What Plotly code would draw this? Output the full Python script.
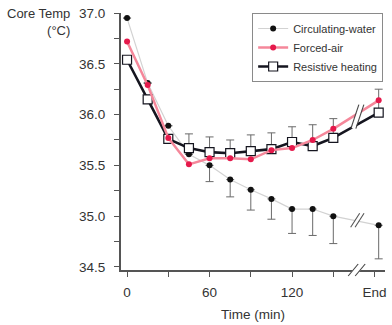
import plotly.graph_objects as go

# Time points (min); the final "End" reading sits just past the axis break
END_TICK = 180
END_X = 183
time_min = [0, 15, 30, 45, 60, 75, 90, 105, 120, 135, 150, END_X]

# Core temperature (degrees C) per warming method
circulating_water = [36.95, 36.31, 35.89, 35.61, 35.50, 35.36, 35.26, 35.17, 35.07, 35.07, 35.00, 34.91]
forced_air = [36.72, 36.29, 35.77, 35.51, 35.57, 35.57, 35.56, 35.65, 35.67, 35.75, 35.86, 36.14]
resistive_heating = [36.54, 36.15, 35.76, 35.67, 35.63, 35.62, 35.64, 35.66, 35.73, 35.69, 35.77, 36.02]

# One-sided error bars (SD): downward for circulating-water, upward for resistive heating
circulating_water_sd = [None, None, None, None, 0.16, 0.17, 0.20, 0.20, 0.24, 0.26, 0.27, 0.33]
resistive_heating_sd = [None, None, None, 0.14, 0.15, 0.13, 0.16, 0.16, 0.15, 0.21, 0.19, 0.23]

x_tick_vals = [0, 30, 60, 90, 120, 150, END_TICK]
x_tick_text = ["0", "", "60", "", "120", "", "End"]
y_tick_vals = [34.5, 34.75, 35.0, 35.25, 35.5, 35.75, 36.0, 36.25, 36.5, 36.75, 37.0]
y_tick_text = ["34.5", "", "35.0", "", "35.5", "", "36.0", "", "36.5", "", "37.0"]

# Where the time axis and the curves are broken before "End"
BREAK_X = 167.5
BREAK_UPPER_Y = 35.98
BREAK_LOWER_Y = 34.96

FONT = "Liberation Sans, Arial, Helvetica, sans-serif"
TEXT = "#333333"
AXIS = "#555555"
ERR = "#6a6a6a"

cw_minus = [v if v is not None else 0 for v in circulating_water_sd]
rh_plus = [v if v is not None else 0 for v in resistive_heating_sd]

fig = go.Figure()

# drawing order: circulating-water, resistive heating, forced-air on top
fig.add_trace(go.Scatter(
    x=time_min, y=circulating_water, name="Circulating-water",
    mode="lines+markers", legendrank=1,
    line=dict(color="#d2d2d2", width=1.2),
    marker=dict(color="#111111", size=6, symbol="circle"),
    error_y=dict(type="data", symmetric=False,
                 array=[0] * len(time_min), arrayminus=cw_minus,
                 color=ERR, thickness=1, width=4),
))
fig.add_trace(go.Scatter(
    x=time_min, y=resistive_heating, name="Resistive heating",
    mode="lines+markers", legendrank=3,
    line=dict(color="#15151f", width=2.6),
    marker=dict(color="white", size=9, symbol="square",
                line=dict(color="#15151f", width=1.2)),
    error_y=dict(type="data", symmetric=False,
                 array=rh_plus, arrayminus=[0] * len(time_min),
                 color=ERR, thickness=1, width=4),
))
fig.add_trace(go.Scatter(
    x=time_min, y=forced_air, name="Forced-air",
    mode="lines+markers", legendrank=2,
    line=dict(color="#f5879a", width=2.5),
    marker=dict(color="#e5194b", size=6, symbol="circle"),
))

shapes = []


def break_marks(xa, ya, yref, dx, dy, gap, color, white_w):
    """Two slanted strokes with a white gap between them, sized in pixels."""
    out = []
    common = dict(xref="x", yref=yref, xsizemode="pixel", ysizemode="pixel",
                  xanchor=xa, yanchor=ya, layer="above")
    out.append(dict(type="line", x0=-dx, y0=-dy, x1=dx, y1=dy,
                    line=dict(color="white", width=white_w), **common))
    for off in (-gap, gap):
        out.append(dict(type="line", x0=-dx + off, y0=-dy, x1=dx + off, y1=dy,
                        line=dict(color=color, width=1.1), **common))
    return out


shapes += break_marks(BREAK_X, BREAK_UPPER_Y, "y", 4, 12, 2.5, "#444444", 4)
shapes += break_marks(BREAK_X, BREAK_LOWER_Y, "y", 4.5, 7, 2.2, "#555555", 3.5)
shapes += break_marks(BREAK_X - 0.5, 0, "paper", 5, 6, 3.5, "#444444", 6)

fig.update_layout(
    width=392, height=325,
    margin=dict(l=121, r=7, t=13, b=55, autoexpand=False),
    paper_bgcolor="white", plot_bgcolor="white",
    font=dict(family=FONT, size=12, color=TEXT),
    showlegend=True,
    legend=dict(
        x=0.993, y=1.0, xanchor="right", yanchor="top",
        bgcolor="white", bordercolor="#8a8a8a", borderwidth=1,
        font=dict(family=FONT, size=11, color=TEXT),
        itemwidth=30, tracegroupgap=0,
    ),
    shapes=shapes,
    annotations=[dict(
        xref="paper", yref="paper", x=0, y=1, xanchor="right", yanchor="top",
        xshift=-49, yshift=9, align="right", showarrow=False,
        text="Core Temp<br>(°C)", font=dict(family=FONT, size=13, color=TEXT),
    )],
)

fig.update_xaxes(
    range=[-4.4, 187.6],
    tickvals=x_tick_vals, ticktext=x_tick_text,
    showline=True, linecolor=AXIS, linewidth=2,
    ticks="outside", ticklen=5, tickwidth=1, tickcolor=AXIS,
    showgrid=False, zeroline=False,
    tickfont=dict(family=FONT, size=13.5, color=TEXT),
    ticklabelstandoff=4,
    title=dict(text="Time (min)", font=dict(family=FONT, size=13.5, color=TEXT), standoff=10),
)
fig.update_yaxes(
    range=[34.47, 37.0],
    tickvals=y_tick_vals, ticktext=y_tick_text,
    showline=True, linecolor=AXIS, linewidth=2,
    ticks="outside", ticklen=5, tickwidth=1, tickcolor=AXIS,
    showgrid=False, zeroline=False,
    tickfont=dict(family=FONT, size=13.5, color=TEXT),
    ticklabelstandoff=6,
)

fig.write_html("out.html")
